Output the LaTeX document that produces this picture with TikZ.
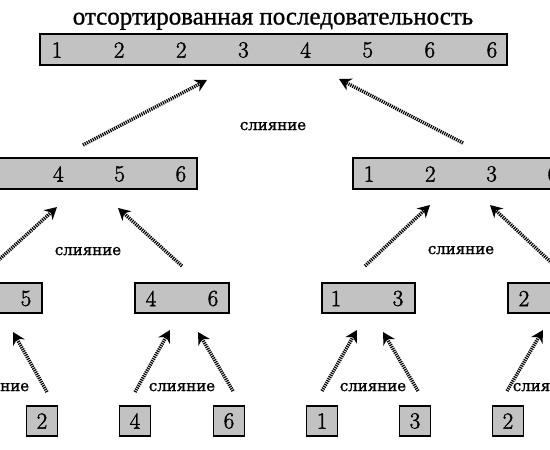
\documentclass[tikz,border=0pt]{standalone}
\usepackage{fontspec}
\usetikzlibrary{arrows.meta}
\newfontface\cyrserif{Liberation Serif}[RawFeature={embolden=1.0}]
\newfontface\labfont{DejaVu Serif}[RawFeature={embolden=1.2}]
\newfontface\numfont{Latin Modern Roman}[RawFeature={embolden=1.6}]
\begin{document}
\begin{tikzpicture}[x=1pt,y=-1pt,
  box/.style={draw=black, line width=1.2pt, fill=black!24, inner sep=0pt, minimum height=31pt},
  leaf/.style={box, minimum width=31pt, minimum height=30pt},
  num/.style={inner sep=0pt, font=\numfont\fontsize{23}{23}\selectfont},
  lab/.style={anchor=base, inner sep=0pt, font=\labfont\fontsize{15}{15}\selectfont},
  arr/.style={line width=3.5pt, dash pattern=on 1.2pt off 1pt,
     -{Stealth[length=12pt,width=13pt]}}]
\useasboundingbox (0,0) rectangle (550,450);
\clip (0,0) rectangle (550,450);
% title
\node[anchor=base, inner sep=0pt, font=\cyrserif\fontsize{25}{25}\selectfont] (title) at (273,24.5) {отсортированная последовательность};
% top box
\node[box, minimum width=467pt] (top) at (273.5,49.5) {};
\foreach \v [count=\i from 0] in {1,2,2,3,4,5,6,6}
  \node[num] (t\i) at (57+62.14*\i,50) {\v};
% row 2
\node[box, minimum width=216pt] (l2) at (89,173.5) {};
\foreach \v [count=\i from 1] in {4,5,6}
  \node[num] (la\i) at (-3+61.3*\i,174) {\v};
\node[box, minimum width=216pt] (r2) at (461,173.5) {};
\foreach \v [count=\i from 0] in {1,2,3,6}
  \node[num] (ra\i) at (369+61.3*\i,174) {\v};
% row 3
\node[box, minimum width=93pt, minimum height=30pt] (b1) at (-4.5,298) {};
\node[num] (b1b) at (26,298.5) {5};
\node[box, minimum width=94pt, minimum height=30pt] (b2) at (182,298) {};
\node[num] (b2a) at (151,298.5) {4};
\node[num] (b2b) at (213,298.5) {6};
\node[box, minimum width=93pt, minimum height=30pt] (b3) at (368.5,298) {};
\node[num] (b3a) at (336,298.5) {1};
\node[num] (b3b) at (398,298.5) {3};
\node[box, minimum width=93pt, minimum height=30pt] (b4) at (554.5,298) {};
\node[num] (b4a) at (524,298.5) {2};
% leaves
\node[leaf] (c2) at (42,421) {}; \node[num] at (c2) {2};
\node[leaf] (c3) at (135,421) {}; \node[num] at (c3) {4};
\node[leaf] (c4) at (229,421) {}; \node[num] at (c4) {6};
\node[leaf] (c5) at (322,421) {}; \node[num] at (c5) {1};
\node[leaf] (c6) at (415,421) {}; \node[num] at (c6) {3};
\node[leaf] (c7) at (508,421) {}; \node[num] at (c7) {2};
% labels
\node[lab] (m0) at (273,130) {слияние};
\node[lab] (m1) at (88,255) {слияние};
\node[lab] (m2) at (461,254) {слияние};
\node[lab] (m3) at (-4,391) {слияние};
\node[lab] (m4) at (182,391) {слияние};
\node[lab] (m5) at (373,391) {слияние};
\node[lab] (m6) at (546,391) {слияние};
% arrow end points
\coordinate (p1) at (83,145);  \coordinate (q1) at (207,80);
\coordinate (p2) at (463,143); \coordinate (q2) at (339,79);
\coordinate (p3) at (-8,266);  \coordinate (q3) at (57,207);
\coordinate (p4) at (182,266); \coordinate (q4) at (118,208);
\coordinate (p5) at (365,266); \coordinate (q5) at (430,205);
\coordinate (p6) at (555,266); \coordinate (q6) at (490,205);
\coordinate (p8) at (47,392);  \coordinate (q8) at (13,332);
\coordinate (p9) at (135,392); \coordinate (q9) at (170,330);
\coordinate (p10) at (233,391); \coordinate (q10) at (198,332);
\coordinate (p11) at (322,391); \coordinate (q11) at (357,330);
\coordinate (p12) at (418,391); \coordinate (q12) at (383,332);
\coordinate (p13) at (507,391); \coordinate (q13) at (543,330);
\foreach \k in {1,2,3,4,5,6,8,9,10,11,12,13} \draw[arr] (p\k) -- (q\k);
\end{tikzpicture}
\end{document}
